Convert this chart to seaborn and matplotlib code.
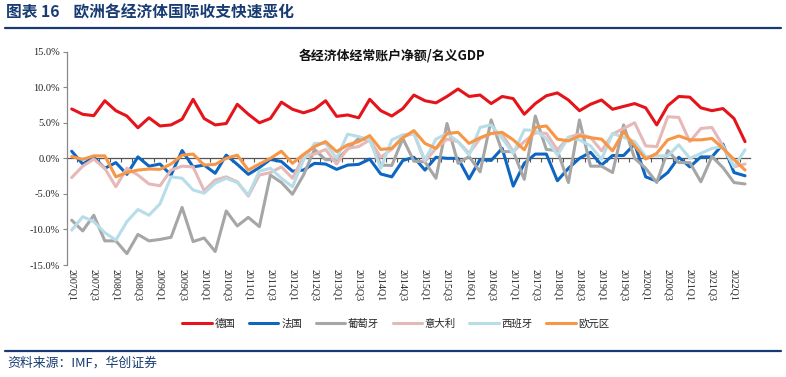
import numpy as np
import pandas as pd
import seaborn as sns
import matplotlib
matplotlib.use("Agg")
import matplotlib.pyplot as plt
from matplotlib.lines import Line2D
from matplotlib.ticker import FuncFormatter

# ---------------- data ----------------
quarters = [f"{y}Q{q}" for y in range(2007, 2023) for q in range(1, 5)][:62]

germany = [6.94, 6.19, 6.0, 8.1, 6.7, 5.95, 4.3, 5.7, 4.55, 4.7,
           5.5, 8.3, 5.6, 4.7, 4.9, 7.6, 6.2, 5.0, 5.6, 7.9,
           6.9, 6.4, 6.9, 8.1, 5.9, 6.1, 5.7, 8.3, 6.7, 5.95,
           7.0, 8.9, 8.1, 7.8, 8.7, 9.75, 8.7, 8.9, 7.7, 8.7,
           8.4, 6.2, 7.7, 8.8, 9.2, 8.2, 6.7, 7.6, 8.2, 6.9,
           7.3, 7.7, 7.1, 4.7, 7.4, 8.7, 8.6, 7.1, 6.7, 7.0,
           5.6, 2.35]
france = [1.0, -0.8, 0.15, -1.4, -0.6, -2.25, 0.2, -1.1, -0.8, -2.35,
          1.1, -1.2, -0.95, -2.1, 0.45, -0.85, -2.25, -1.3, -0.15, -0.45,
          -1.8, -1.65, -0.7, -0.8, -1.55, -0.95, -0.85, -0.1, -2.2, -2.6,
          -0.3, 0.15, -1.65, 0.15, 0.0, 0.0, -2.9, -0.15, -0.3, 1.4,
          -3.9, -0.7, 0.6, 0.6, -3.15, -1.4, 0.0, 0.85, -0.95, 0.4,
          0.4, 2.0, -2.6, -3.2, -2.0, 0.15, -1.2, 0.2, 0.2, 2.0,
          -2.0, -2.45]
portugal = [-8.7, -10.2, -8.0, -11.6, -11.6, -13.4, -10.7, -11.6, -11.4, -11.1,
            -6.9, -11.7, -11.2, -13.1, -7.4, -9.5, -8.3, -9.6, -2.35, -3.4,
            -5.05, -2.35, 1.25, -0.2, -0.2, 1.3, 2.8, 2.6, -0.95, -1.0,
            2.8, -0.4, -0.5, -2.8, 4.9, -0.7, 0.25, -1.9, 5.4, 0.95,
            0.95, -2.95, 5.95, 1.25, 1.1, -3.4, 5.4, -1.1, -1.1, -2.0,
            4.7, 0.0, -1.4, -3.4, 1.1, -0.6, -0.6, -3.3, 0.25, -1.3,
            -3.4, -3.6]
italy = [-2.7, -1.1, -0.1, -1.4, -4.0, -1.4, -2.35, -3.6, -3.85, -1.65,
         -1.1, -1.2, -4.55, -3.05, -2.6, -3.3, -5.3, -2.35, -2.0, -1.2,
         -2.8, 0.25, 0.6, 1.25, -0.8, 1.4, 1.65, 2.6, 0.15, 1.3,
         3.05, 3.5, -0.45, 1.4, 2.7, 2.35, 0.7, 2.8, 3.5, 3.4,
         0.95, 2.35, 3.6, 3.5, 1.2, 2.95, 3.4, 2.95, 1.05, 3.4,
         4.2, 5.0, 1.75, 1.65, 5.85, 5.75, 2.35, 4.2, 4.35, 1.75,
         -1.2, -0.8]
spain = [-10.1, -8.2, -8.9, -10.45, -11.5, -8.9, -7.2, -8.0, -6.4, -2.6,
         -2.8, -4.45, -4.9, -3.5, -2.8, -3.4, -5.15, -1.8, -1.4, -2.8,
         -4.0, -0.25, 2.1, 2.1, 0.0, 3.4, 3.05, 2.6, -1.4, 2.6,
         3.3, 3.5, -0.25, 2.7, 3.5, 2.35, 0.45, 4.35, 4.7, 2.8,
         0.7, 4.0, 3.9, 2.8, 0.45, 2.95, 2.6, 1.75, -0.15, 3.5,
         2.95, 2.35, 0.25, 0.35, 0.35, 1.9, 0.0, 0.7, 1.4, 1.65,
         -1.2, 1.2]
euro = [0.25, -0.15, 0.35, 0.35, -2.6, -2.0, -1.65, -1.5, -1.55, -0.8,
        0.45, 0.6, -0.95, -0.85, 0.0, 0.45, -1.65, -0.8, 0.0, 1.0,
        -0.7, 0.55, 1.65, 2.35, 0.95, 1.9, 2.35, 3.2, 1.25, 1.4,
        2.9, 3.9, 2.1, 1.4, 3.5, 3.65, 2.1, 2.9, 3.5, 3.65,
        2.6, 1.2, 4.35, 4.55, 2.7, 2.45, 3.15, 2.9, 2.7, 1.05,
        3.75, 1.75, -0.1, 0.7, 2.6, 3.15, 2.6, 2.6, 2.8, 1.4,
        -0.15, -1.65]

series_names = ["德国", "法国", "葡萄牙", "意大利", "西班牙", "欧元区"]
series_values = [germany, france, portugal, italy, spain, euro]
colors = ["#E5141B", "#0D66C2", "#A6A6A6", "#E6B8B7", "#B7DDE8", "#F79646"]

title_text = "图表 16    欧洲各经济体国际收支快速恶化"
chart_title = "各经济体经常账户净额/名义GDP"
source_text = "资料来源：IMF，华创证券"

# ---------------- build frame ----------------
frames = []
for name, vals in zip(series_names, series_values):
    frames.append(pd.DataFrame({"idx": np.arange(len(vals)), "quarter": quarters,
                                "value": vals, "series": name}))
long_df = pd.concat(frames, ignore_index=True)

# ---------------- plot ----------------
sns.set_theme(style="white")
plt.rcParams["font.family"] = ["Noto Sans CJK SC", "DejaVu Sans"]

navy = "#173B72"
fig = plt.figure(figsize=(7.86, 3.77), dpi=100)
ax = fig.add_axes([0.0849, 0.297, 0.8693, 0.566])

sns.lineplot(data=long_df, x="idx", y="value", hue="series", hue_order=series_names,
             palette=colors, linewidth=2.2, ax=ax, legend=False, sort=False)

ax.set_xlim(-0.45, len(quarters) - 0.55)
ax.set_ylim(-15, 15)
ax.set_yticks(np.arange(-15, 15.1, 5))
ax.yaxis.set_major_formatter(FuncFormatter(lambda v, p: f"{v:.1f}%"))
ax.set_xticks(np.arange(0, len(quarters), 2))
ax.set_xticklabels(quarters[::2], rotation=-90, fontsize=7.2,
                   family=["Liberation Serif"], color="#222222")
for lbl in ax.get_yticklabels():
    lbl.set_family(["Liberation Serif"])
ax.tick_params(axis="y", labelsize=7.5, colors="#222222", length=3, width=0.8,
               direction="out", left=True, color="#888888", pad=2)
ax.tick_params(axis="x", length=0, pad=3)
ax.set_xlabel("")
ax.set_ylabel("")
for s in ["top", "right", "bottom"]:
    ax.spines[s].set_visible(False)
ax.spines["left"].set_color("#888888")
ax.spines["left"].set_linewidth(0.9)

# zero axis with tick marks between categories
sec = ax.secondary_xaxis(0.5)
sec.set_alignment("bottom")
sec.set_xticks(np.arange(-0.5, len(quarters), 1))
sec.tick_params(axis="x", length=3, width=0.8, color="#555555", labelbottom=False,
                labeltop=False, direction="out")
sec.spines["bottom"].set_color("#555555")
sec.spines["bottom"].set_linewidth(0.9)
sec.set_zorder(0.5)

fig.text(0.4985, 0.852, chart_title, ha="center", va="center", fontsize=9.3,
         fontweight="bold", color="#111111")

# legend
handles = [Line2D([0], [0], color=c, lw=2.2) for c in colors]
fig.legend(handles, series_names, loc="center", bbox_to_anchor=(0.504, 0.141),
           ncol=6, frameon=False, fontsize=7.5, handlelength=2.8,
           handletextpad=0.3, columnspacing=1.3)

# header / footer
fig.text(0.0076, 0.967, title_text, ha="left", va="center", fontsize=11.3,
         fontweight="bold", color=navy)
fig.add_artist(Line2D([0.006, 0.994], [0.926, 0.926], transform=fig.transFigure,
                      color=navy, lw=1.6))
fig.add_artist(Line2D([0.006, 0.994], [0.069, 0.069], transform=fig.transFigure,
                      color=navy, lw=1.6))
fig.text(0.009, 0.038, source_text, ha="left", va="center", fontsize=9.3,
         color=navy)

fig.savefig("out.png", dpi=100)
